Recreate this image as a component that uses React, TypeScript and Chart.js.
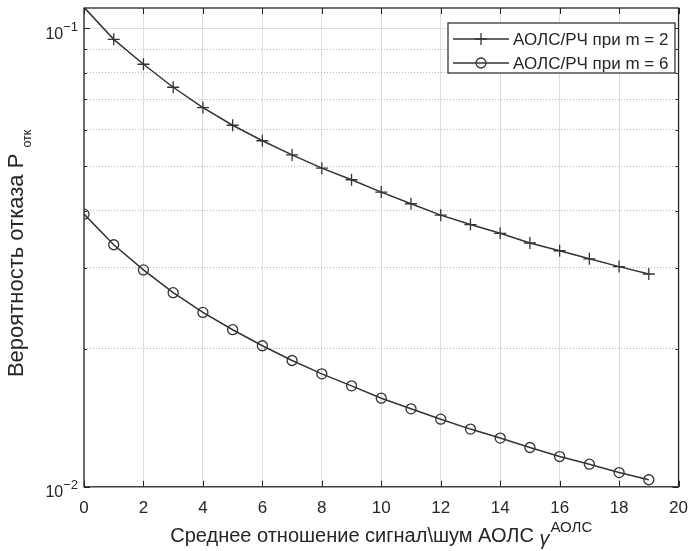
import React, { useEffect, useRef } from "react";
import { Chart, registerables } from "chart.js";

Chart.register(...registerables);

// ---- data ----
const xValues = [0, 1, 2, 3, 4, 5, 6, 7, 8, 9, 10, 11, 12, 13, 14, 15, 16, 17, 18, 19];
const seriesM2 = [
  0.111, 0.0945, 0.0834, 0.0743, 0.0671, 0.0614, 0.0568, 0.0529, 0.0495, 0.0467,
  0.0439, 0.0414, 0.0391, 0.0373, 0.0357, 0.034, 0.0327, 0.0314, 0.0302, 0.0291,
];
const seriesM6 = [
  0.0393, 0.0337, 0.0297, 0.0265, 0.024, 0.022, 0.0203, 0.01885, 0.01763, 0.0166,
  0.0156, 0.01479, 0.01404, 0.01336, 0.01277, 0.01218, 0.01164, 0.0112, 0.01074, 0.01036,
];
const seriesLabels = ["АОЛС/РЧ при m = 2", "АОЛС/РЧ при m = 6"];
const xTicks = [0, 2, 4, 6, 8, 10, 12, 14, 16, 18, 20];
const yMajorTicks = [0.01, 0.1];
const yMinorTicks = [0.02, 0.03, 0.04, 0.05, 0.06, 0.07, 0.08, 0.09];
const X_MIN = 0;
const X_MAX = 20;
const Y_MIN = 0.01;
const Y_MAX = 0.1106;
const xTitleMain = "Среднее отношение сигнал\\шум АОЛС ";
const xTitleSymbol = "γ";
const xTitleSup = "АОЛС";
const yTitleMain = "Вероятность отказа ";
const yTitleSymbol = "P";
const yTitleSub = "отк";

// ---- style ----
const FONT = "'Liberation Sans', Arial, Helvetica, sans-serif";
const AXIS = "#262626";
const LINE = "#333333";

const isMajor = (v: number) => yMajorTicks.some((m) => Math.abs(m - v) < 1e-9);

const decorPlugin = {
  id: "matlabDecor",
  afterDraw(chart: any) {
    const { ctx, chartArea: a, scales } = chart;
    const x = scales.x;
    const y = scales.y;
    ctx.save();

    // axes box
    ctx.strokeStyle = AXIS;
    ctx.lineWidth = 1.3;
    ctx.strokeRect(a.left, a.top, a.right - a.left, a.bottom - a.top);

    // inward ticks
    ctx.lineWidth = 1;
    ctx.beginPath();
    xTicks.forEach((v) => {
      const px = Math.round(x.getPixelForValue(v)) + 0.5;
      ctx.moveTo(px, a.bottom);
      ctx.lineTo(px, a.bottom - 6);
      ctx.moveTo(px, a.top);
      ctx.lineTo(px, a.top + 6);
    });
    [...yMajorTicks, ...yMinorTicks].forEach((v) => {
      const py = Math.round(y.getPixelForValue(v)) + 0.5;
      const len = isMajor(v) ? 6 : 3;
      ctx.moveTo(a.left, py);
      ctx.lineTo(a.left + len, py);
      ctx.moveTo(a.right, py);
      ctx.lineTo(a.right - len, py);
    });
    ctx.stroke();

    // y tick labels 10^n
    ctx.fillStyle = AXIS;
    yMajorTicks.forEach((v) => {
      const py = y.getPixelForValue(v);
      const exp = Math.round(Math.log10(v));
      const sup = (exp < 0 ? "\u2212" : "") + String(Math.abs(exp));
      ctx.font = `13px ${FONT}`;
      const sw = ctx.measureText(sup).width;
      const supX = a.left - 6 - sw;
      ctx.textAlign = "left";
      ctx.textBaseline = "alphabetic";
      ctx.fillText(sup, supX, py + 2.5);
      ctx.font = `16px ${FONT}`;
      ctx.textAlign = "right";
      ctx.fillText("10", supX, py + 10.5);
    });

    // x title
    {
      const mainFont = `20px ${FONT}`;
      const symFont = `italic 20px ${FONT}`;
      const supFont = `15px ${FONT}`;
      ctx.font = mainFont;
      const w1 = ctx.measureText(xTitleMain).width;
      ctx.font = symFont;
      const w2 = ctx.measureText(xTitleSymbol).width;
      ctx.font = supFont;
      const w3 = ctx.measureText(xTitleSup).width;
      const total = w1 + w2 + 1 + w3;
      let cx = (a.left + a.right) / 2 - total / 2;
      const base = 542;
      ctx.textAlign = "left";
      ctx.textBaseline = "alphabetic";
      ctx.font = mainFont;
      ctx.fillText(xTitleMain, cx, base);
      cx += w1;
      ctx.font = symFont;
      ctx.fillText(xTitleSymbol, cx, base + 3);
      cx += w2 + 1;
      ctx.font = supFont;
      ctx.fillText(xTitleSup, cx, base - 10);
    }

    // y title (rotated)
    {
      const mainFont = `22px ${FONT}`;
      const subFont = `12.5px ${FONT}`;
      ctx.font = mainFont;
      const w1 = ctx.measureText(yTitleMain).width;
      const w2 = ctx.measureText(yTitleSymbol).width;
      ctx.font = subFont;
      const w3 = ctx.measureText(yTitleSub).width;
      const gap = 6;
      const total = w1 + w2 + gap + w3;
      ctx.save();
      ctx.translate(23, (a.top + a.bottom) / 2 + 6);
      ctx.rotate(-Math.PI / 2);
      ctx.textAlign = "left";
      ctx.textBaseline = "alphabetic";
      let lx = -total / 2;
      ctx.font = mainFont;
      ctx.fillText(yTitleMain, lx, 0);
      lx += w1;
      ctx.fillText(yTitleSymbol, lx, 0);
      lx += w2 + gap;
      ctx.font = subFont;
      ctx.fillText(yTitleSub, lx, 8);
      ctx.restore();
    }

    // legend
    {
      const bx = 448;
      const by = 23;
      const bw = 227;
      const bh = 50;
      ctx.fillStyle = "#ffffff";
      ctx.fillRect(bx, by, bw, bh);
      ctx.strokeStyle = AXIS;
      ctx.lineWidth = 1.2;
      ctx.strokeRect(bx, by, bw, bh);
      const rows = [39, 63];
      chart.data.datasets.forEach((ds: any, i: number) => {
        const ry = rows[i];
        ctx.strokeStyle = LINE;
        ctx.lineWidth = 1.5;
        ctx.beginPath();
        ctx.moveTo(453, ry);
        ctx.lineTo(509, ry);
        ctx.stroke();
        ctx.lineWidth = 1.3;
        ctx.beginPath();
        if (ds.pointStyle === "cross") {
          ctx.moveTo(481, ry - 6);
          ctx.lineTo(481, ry + 6);
          ctx.moveTo(475, ry);
          ctx.lineTo(487, ry);
        } else {
          ctx.arc(481, ry, 5, 0, Math.PI * 2);
        }
        ctx.stroke();
        ctx.fillStyle = AXIS;
        ctx.font = `17px ${FONT}`;
        ctx.textAlign = "left";
        ctx.textBaseline = "middle";
        ctx.fillText(ds.label, 513, ry + 1);
      });
    }

    ctx.restore();
  },
};

const hideOutside = (r: number) => (c: any) => {
  const v = c.raw && c.raw.y;
  return v === undefined || (v <= Y_MAX && v >= Y_MIN) ? r : 0;
};

export default function App() {
  const ref = useRef<HTMLCanvasElement | null>(null);

  useEffect(() => {
    if (!ref.current) return;
    const chart = new Chart(ref.current, {
      type: "line",
      data: {
        datasets: [
          {
            label: seriesLabels[0],
            data: xValues.map((x, i) => ({ x, y: seriesM2[i] })),
            borderColor: LINE,
            borderWidth: 1.5,
            pointStyle: "cross",
            pointRadius: hideOutside(6),
            pointBorderColor: LINE,
            pointBorderWidth: 1.3,
            pointBackgroundColor: "rgba(0,0,0,0)",
            tension: 0,
          },
          {
            label: seriesLabels[1],
            data: xValues.map((x, i) => ({ x, y: seriesM6[i] })),
            borderColor: LINE,
            borderWidth: 1.5,
            pointStyle: "circle",
            pointRadius: hideOutside(5),
            pointBorderColor: LINE,
            pointBorderWidth: 1.3,
            pointBackgroundColor: "rgba(0,0,0,0)",
            tension: 0,
          },
        ],
      },
      options: {
        responsive: false,
        animation: false,
        events: [],
        layout: { padding: { left: 84, right: 10, top: 8, bottom: 21.8 } },
        plugins: { legend: { display: false }, tooltip: { enabled: false } },
        scales: {
          x: {
            type: "linear",
            min: X_MIN,
            max: X_MAX,
            afterBuildTicks: (s: any) => {
              s.ticks = xTicks.map((v) => ({ value: v }));
            },
            ticks: {
              font: { family: FONT, size: 17 },
              color: AXIS,
              padding: 11,
              maxRotation: 0,
              autoSkip: false,
            },
            grid: { color: "#dedede", lineWidth: 1, drawTicks: false },
            border: { display: false },
          },
          y: {
            type: "logarithmic",
            min: Y_MIN,
            max: Y_MAX,
            afterBuildTicks: (s: any) => {
              s.ticks = [...yMajorTicks, ...yMinorTicks]
                .sort((p, q) => p - q)
                .map((v) => ({ value: v }));
            },
            ticks: { display: false },
            grid: {
              drawTicks: false,
              lineWidth: 1,
              color: (c: any) => (c.tick && isMajor(c.tick.value) ? "#dedede" : "#b5b5b5"),
            },
            border: {
              display: false,
              dash: (c: any) => (c.tick && isMajor(c.tick.value) ? [] : [1, 2]),
            },
          },
        },
      } as any,
      plugins: [decorPlugin],
    });
    return () => chart.destroy();
  }, []);

  return (
    <div style={{ position: "fixed", left: 0, top: 0, width: 699, height: 551, background: "#fff" }}>
      <canvas ref={ref} width={699} height={551} />
    </div>
  );
}
